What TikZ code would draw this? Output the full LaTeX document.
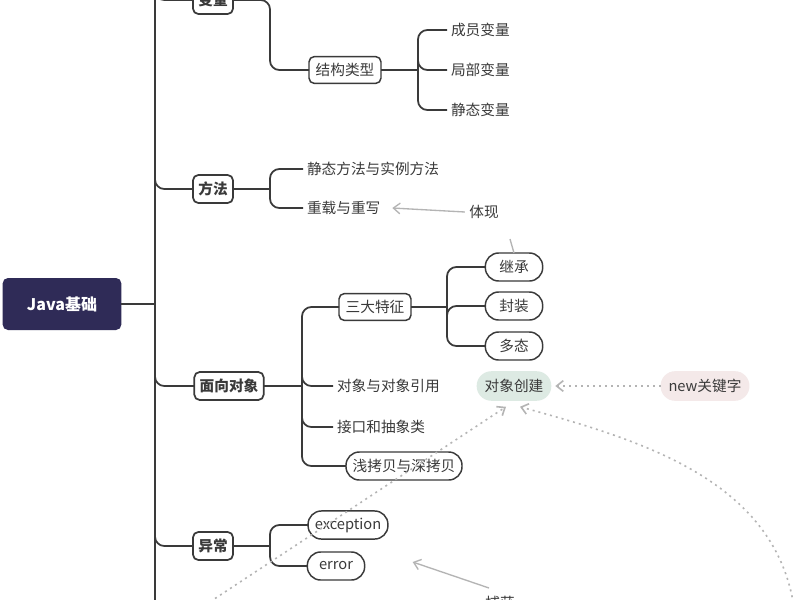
\documentclass[tikz,border=0pt]{standalone}
\usepackage{fontspec}
\setmainfont{Noto Sans CJK SC}
\usetikzlibrary{arrows.meta,positioning,calc}
\definecolor{ink}{HTML}{3A3A3A}
\definecolor{navy}{HTML}{2F2B57}
\definecolor{mint}{HTML}{DDEAE3}
\definecolor{rose}{HTML}{F4E9E9}
\definecolor{hint}{HTML}{B4B4B4}

\begin{document}
\begin{tikzpicture}[x=0.75pt,y=-0.75pt,
    every node/.style={font=\fontsize{11}{13}\selectfont,text=ink,outer sep=0},
    root/.style={fill=navy,rounded corners=4pt,minimum width=89pt,minimum height=39pt,text=white,font=\fontsize{12}{14}\selectfont\bfseries},
    topic/.style={draw=ink,line width=1.3pt,rounded corners=4pt,inner sep=4pt,minimum height=21pt,font=\fontsize{11}{13}\selectfont\bfseries},
    box/.style={draw=ink,line width=1.1pt,rounded corners=4pt,inner sep=5pt,minimum height=20pt},
    pill/.style={draw=ink,line width=1.1pt,rounded corners=10pt,inner sep=5pt,minimum width=43pt,minimum height=21pt},
    leaf/.style={inner sep=3pt,anchor=west},
    soft/.style={rounded corners=11pt,inner sep=6pt,minimum height=22pt},
    branch/.style={draw=ink,line width=1.3pt,rounded corners=7pt},
    note/.style={draw=hint,line width=1pt,-{Straight Barb[length=5pt,width=8pt]}},
    dots/.style={draw=hint,line width=1.2pt,dash pattern=on 1.5pt off 3pt,-{Straight Barb[length=5pt,width=8pt]}}]
    \clip (0,0) rectangle (800,600);
    \fill[white] (0,0) rectangle (800,600);

    % root and trunk
    \node[root](java) at (62,304) {Java基础};
    \draw[branch] (java.east) -- (155,304);
    \draw[branch] (155,-30) -- (155,630);

    % first level
    \node[topic](var)  at (213,0)   {变量};
    \node[topic](meth) at (213,189) {方法};
    \node[topic](oop)  at (229,386) {面向对象};
    \node[topic](exc)  at (213,546) {异常};
    \foreach \t in {var,meth,oop,exc}
        \draw[branch] (155,0) |- (\t.west);

    % variables
    \node[box](kind) at (345,70) {结构类型};
    \draw[branch] (var.east) -| (270,-30);
    \draw[branch] (var.east) -- (270,0) |- (kind.west);
    \node[leaf](v1) at (447,30)  {成员变量};
    \node[leaf](v2) at (447,70)  {局部变量};
    \node[leaf](v3) at (447,110) {静态变量};
    \draw[branch] (kind.east) -- (418,70);
    \foreach \t in {v1,v2,v3}
        \draw[branch] (418,70) |- (\t.west);

    % methods
    \node[leaf](m1) at (303,169) {静态方法与实例方法};
    \node[leaf](m2) at (303,208) {重载与重写};
    \draw[branch] (meth.east) -- (270,189);
    \foreach \t in {m1,m2}
        \draw[branch] (270,189) |- (\t.west);

    % object oriented
    \node[box](three) at (375,307) {三大特征};
    \node[leaf](o2) at (333,386) {对象与对象引用};
    \node[leaf](o3) at (333,427) {接口和抽象类};
    \node[pill](copy) at (404,466) {浅拷贝与深拷贝};
    \draw[branch] (oop.east) -- (302,386);
    \foreach \t in {three,o2,o3,copy}
        \draw[branch] (302,386) |- (\t.west);
    \node[pill](inh) at (514,267) {继承};
    \node[pill](enc) at (514,306) {封装};
    \node[pill](pol) at (514,346) {多态};
    \draw[branch] (three.east) -- (447,307);
    \foreach \t in {inh,enc,pol}
        \draw[branch] (447,307) |- (\t.west);

    % exceptions
    \node[pill](exn) at (348,525) {exception};
    \node[pill](err) at (336,566) {error};
    \draw[branch] (exc.east) -- (270,546);
    \foreach \t in {exn,err}
        \draw[branch] (270,546) |- (\t.west);

    % relations
    \node(show) at (484,212) {体现};
    \draw[draw=hint,line width=1pt] (inh.north) -- ++(-4,-14);
    \draw[note] (show.west) -- ($(m2.east)+(8,0)$);
    \node[soft,fill=mint](make) at (514,386) {对象创建};
    \node[soft,fill=rose](new) at (705,386) {new关键字};
    \draw[dots] (new.west) -- ($(make.east)+(4,0)$);
    \coordinate (lowl) at (190,615);
    \coordinate (lowr) at (795,615);
    \draw[dots] (lowl) -- ($(make.south)+(-8,6)$);
    \draw[dots] (lowr) .. controls (780,480) and (640,440) .. ($(make.south)+(6,6)$);
    \node(catch) at (500,603) {捕获};
    \draw[note] (489,588) -- ($(err.east)+(48,-4)$);
\end{tikzpicture}
\end{document}
